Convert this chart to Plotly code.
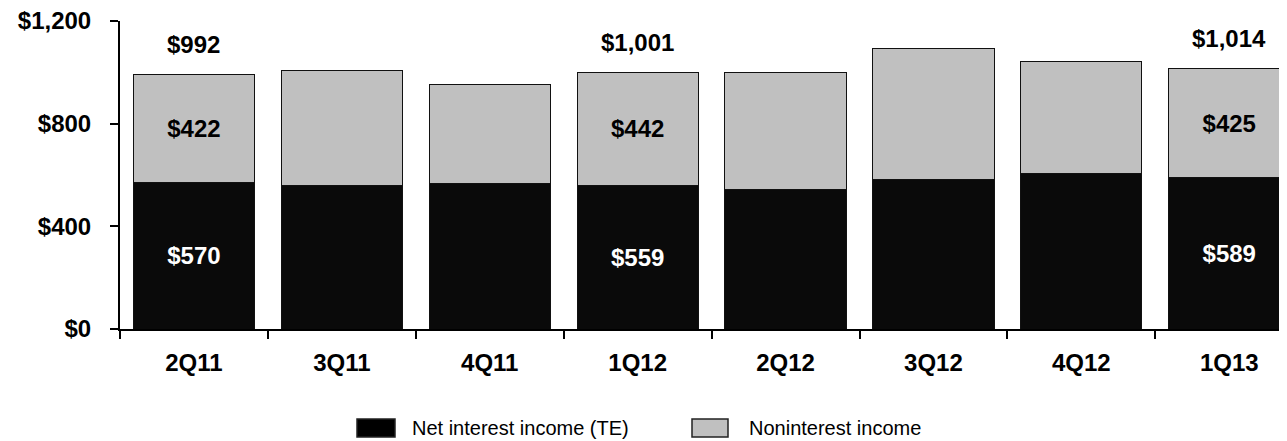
import plotly.graph_objects as go

quarters = ["2Q11", "3Q11", "4Q11", "1Q12", "2Q12", "3Q12", "4Q12", "1Q13"]
net_interest = [570, 558, 568, 559, 544, 583, 607, 589]
noninterest = [422, 449, 384, 442, 455, 508, 437, 425]
labeled = ["2Q11", "1Q12", "1Q13"]
y_ticks = [0, 400, 800, 1200]
y_tick_labels = ["$0", "$400", "$800", "$1,200"]

FONT = "Arial, Liberation Sans, sans-serif"
BOLD_SIZE = 24
OFF = 8  # page body margin
W, H = 1287 - OFF, 441 - OFF
ML, MR, MT, MB = 120 - OFF, 0, 21 - OFF, 112
plot_w = W - ML - MR
plot_h = H - MT - MB

totals = [a + b for a, b in zip(net_interest, noninterest)]
nii_text = [f"${v:,}" if q in labeled else "" for q, v in zip(quarters, net_interest)]
non_text = [f"${v:,}" if q in labeled else "" for q, v in zip(quarters, noninterest)]

fig = go.Figure()
fig.add_trace(go.Bar(
    x=quarters, y=net_interest, name="Net interest income (TE)",
    marker=dict(color="#0a0a0a", line=dict(color="#111111", width=1)),
    text=nii_text, textposition="inside", insidetextanchor="middle", textangle=0,
    insidetextfont=dict(family=FONT, size=BOLD_SIZE, color="white", weight="bold"),
    hoverinfo="skip",
))
fig.add_trace(go.Bar(
    x=quarters, y=noninterest, name="Noninterest income",
    marker=dict(color="#c0c0c0", line=dict(color="#111111", width=1)),
    text=non_text, textposition="inside", insidetextanchor="middle", textangle=0,
    insidetextfont=dict(family=FONT, size=BOLD_SIZE, color="black", weight="bold"),
    hoverinfo="skip",
))

annotations = []
for q, t in zip(quarters, totals):
    if q in labeled:
        annotations.append(dict(
            x=q, y=t, xref="x", yref="y", text=f"${t:,}", showarrow=False,
            yshift=30, font=dict(family=FONT, size=BOLD_SIZE, color="black", weight="bold"),
        ))

def px_x(p):
    return (p - OFF - ML) / plot_w

def px_y(p):
    return (H - MB - (p - OFF)) / plot_h

shapes = []
legend_items = [
    ("Net interest income (TE)", "#000000", 357, 395, 410),
    ("Noninterest income", "#c0c0c0", 692, 728, 747),
]
for name, col, x0, x1, tx in legend_items:
    shapes.append(dict(type="rect", xref="paper", yref="paper",
                       x0=px_x(x0), x1=px_x(x1), y0=px_y(437), y1=px_y(419),
                       fillcolor=col, line=dict(color="#222222", width=1.5)))
    annotations.append(dict(
        x=px_x(tx), y=px_y(428), xref="paper", yref="paper", text=name,
        showarrow=False, xanchor="left", yanchor="middle",
        font=dict(family=FONT, size=20, color="black"),
    ))

fig.update_layout(
    width=W, height=H,
    margin=dict(l=ML, r=MR, t=MT, b=MB, pad=0),
    barmode="stack", bargap=0.18,
    plot_bgcolor="white", paper_bgcolor="white",
    showlegend=False,
    annotations=annotations, shapes=shapes,
    font=dict(family=FONT, color="black"),
)
fig.update_xaxes(
    range=[-0.5, -0.5 + plot_w / 147.9],
    showline=True, linecolor="black", linewidth=2,
    ticks="outside", tickson="boundaries", ticklen=8, tickcolor="black", tickwidth=2,
    tickfont=dict(family=FONT, size=BOLD_SIZE, color="black", weight="bold"),
    ticklabelstandoff=11, ticklabeloverflow="allow",
    showgrid=False, zeroline=False, fixedrange=True,
)
fig.update_yaxes(
    range=[0, 1200], tickvals=y_ticks, ticktext=y_tick_labels,
    showline=True, linecolor="black", linewidth=2,
    ticks="outside", ticklen=8, tickcolor="black", tickwidth=2,
    tickfont=dict(family=FONT, size=BOLD_SIZE, color="black", weight="bold"),
    ticklabelstandoff=14, ticklabeloverflow="allow",
    showgrid=False, zeroline=False, fixedrange=True,
)

fig.write_html("out.html")
